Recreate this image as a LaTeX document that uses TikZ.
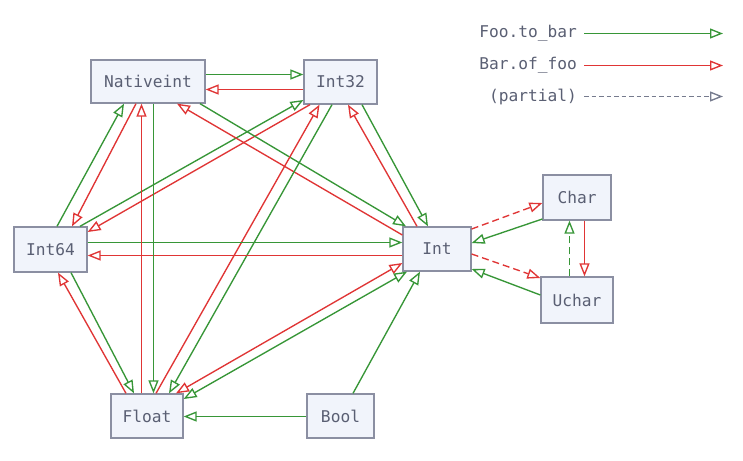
\documentclass[tikz,border=0pt]{standalone}
\usepackage{fontspec}
\setmonofont{DejaVu Sans Mono}
\usetikzlibrary{arrows.meta}
\definecolor{gr}{HTML}{379637}
\definecolor{rd}{HTML}{E03535}
\definecolor{gy}{HTML}{767B8E}
\definecolor{txt}{HTML}{5A5F73}
\definecolor{boxfill}{HTML}{F1F4FB}
\definecolor{boxline}{HTML}{8B8FA2}
\tikzset{
  box/.style={draw=boxline, fill=boxfill, line width=1.3pt, text=txt,
    font=\ttfamily\fontsize{16.2}{19}\selectfont, inner sep=0pt},
  lbl/.style={text=txt, font=\ttfamily\fontsize{16.2}{19}\selectfont, inner sep=0pt, anchor=east},
  tipo/.tip={Triangle[open, length=13pt, width=10pt]},
  g/.style={draw=gr, line width=1.35pt, -tipo},
  r/.style={draw=rd, line width=1.35pt, -tipo},
  gg/.style={draw=gr, line width=1.35pt, tipo-tipo},
  rr/.style={draw=rd, line width=1.35pt, tipo-tipo},
  pg/.style={draw=gy, line width=1.35pt, -tipo},
  dsh/.style={dash pattern=on 7pt off 4pt},
  ldsh/.style={dash pattern=on 4.5pt off 3pt},
}
\begin{document}
\begin{tikzpicture}[x=1pt, y=-1pt]
\useasboundingbox (0,0) rectangle (743,460);
\fill[white] (0,0) rectangle (743,460);
% nodes
\node[box, minimum width=114pt, minimum height=43pt] (nat) at (148,81.5) {Nativeint};
\node[box, minimum width=73pt, minimum height=44pt] (i32) at (340.5,82) {Int32};
\node[box, minimum width=73pt, minimum height=45pt] (i64) at (50.5,249.5) {Int64};
\node[box, minimum width=68pt, minimum height=44pt] (int) at (437,249) {Int};
\node[box, minimum width=68pt, minimum height=45pt] (chr) at (577,197.5) {Char};
\node[box, minimum width=72pt, minimum height=46pt] (uch) at (577,300) {Uchar};
\node[box, minimum width=72pt, minimum height=44pt] (flt) at (147,416) {Float};
\node[box, minimum width=67pt, minimum height=44pt] (bool) at (340.5,416) {Bool};
% legend
\node[lbl] (l1) at (577,33.5) {Foo.to\_bar};
\node[lbl] (l2) at (577,65.5) {Bar.of\_foo};
\node[lbl] (l3) at (577,96.5) {(partial)};
\coordinate (e1) at (723,33.5);
\coordinate (e2) at (723,65.5);
\coordinate (e3) at (723,96.5);
\draw[g] ([xshift=7pt]l1.east) -- (e1);
\draw[r] ([xshift=7pt]l2.east) -- (e2);
\draw[pg, ldsh] ([xshift=7pt]l3.east) -- (e3);
% edges
\draw[g] ([yshift=7pt]nat.east) -- ([yshift=7.5pt]i32.west);
\draw[r] ([yshift=-7.5pt]i32.west) -- ([yshift=-8pt]nat.east);
\draw[g] ([xshift=6.5pt]i64.north) -- ([xshift=-24pt]nat.south);
\draw[r] ([xshift=-12pt]nat.south) -- ([xshift=21.5pt]i64.north);
\draw[g] ([xshift=29.5pt]i64.north) -- ([yshift=-18pt]i32.west);
\draw[r] ([xshift=-30.5pt]i32.south) -- ([yshift=17.5pt]i64.east);
\draw[g] ([xshift=52pt]nat.south) -- ([xshift=-31pt]int.north);
\draw[r] ([yshift=14pt]int.west) -- ([xshift=29pt]nat.south);
\draw[g] ([xshift=21.5pt]i32.south) -- ([xshift=-9pt]int.north);
\draw[r] ([xshift=-20pt]int.north) -- ([xshift=7.5pt]i32.south);
\draw[g] ([xshift=-8.5pt]i32.south) -- ([xshift=22pt]flt.north);
\draw[r] ([xshift=9pt]flt.north) -- ([xshift=-21pt]i32.south);
\draw[g] ([yshift=7pt]i64.east) -- ([yshift=6.5pt]int.west);
\draw[r] ([yshift=-6.5pt]int.west) -- ([yshift=-6pt]i64.east);
\draw[g] ([xshift=5.5pt]nat.south) -- ([xshift=6.5pt]flt.north);
\draw[r] ([xshift=-5.5pt]flt.north) -- ([xshift=-6.5pt]nat.south);
\draw[g] ([xshift=20.5pt]i64.south) -- ([xshift=-13pt]flt.north);
\draw[r] ([xshift=-21pt]flt.north) -- ([xshift=7.5pt]i64.south);
\draw[rr] ([xshift=29pt]flt.north) -- ([yshift=-14pt]int.west);
\draw[gg] ([yshift=17pt]flt.east) -- ([xshift=-30pt]int.south);
\draw[g] ([xshift=12.5pt]bool.north) -- ([xshift=-17pt]int.south);
\draw[g] ([yshift=-0.5pt]bool.west) -- ([yshift=-0.5pt]flt.east);
\draw[r, dsh] ([yshift=20pt]int.east) -- ([yshift=-5.5pt]chr.west);
\draw[g] ([yshift=-21.5pt]chr.west) -- ([yshift=6pt]int.east);
\draw[r, dsh] ([yshift=-5pt]int.east) -- ([yshift=22pt]uch.west);
\draw[g] ([yshift=5pt]uch.west) -- ([yshift=-20pt]int.east);
\draw[g, dsh] ([xshift=-7.5pt]uch.north) -- ([xshift=-7.5pt]chr.south);
\draw[r] ([xshift=7.5pt]chr.south) -- ([xshift=7.5pt]uch.north);
\end{tikzpicture}
\end{document}
